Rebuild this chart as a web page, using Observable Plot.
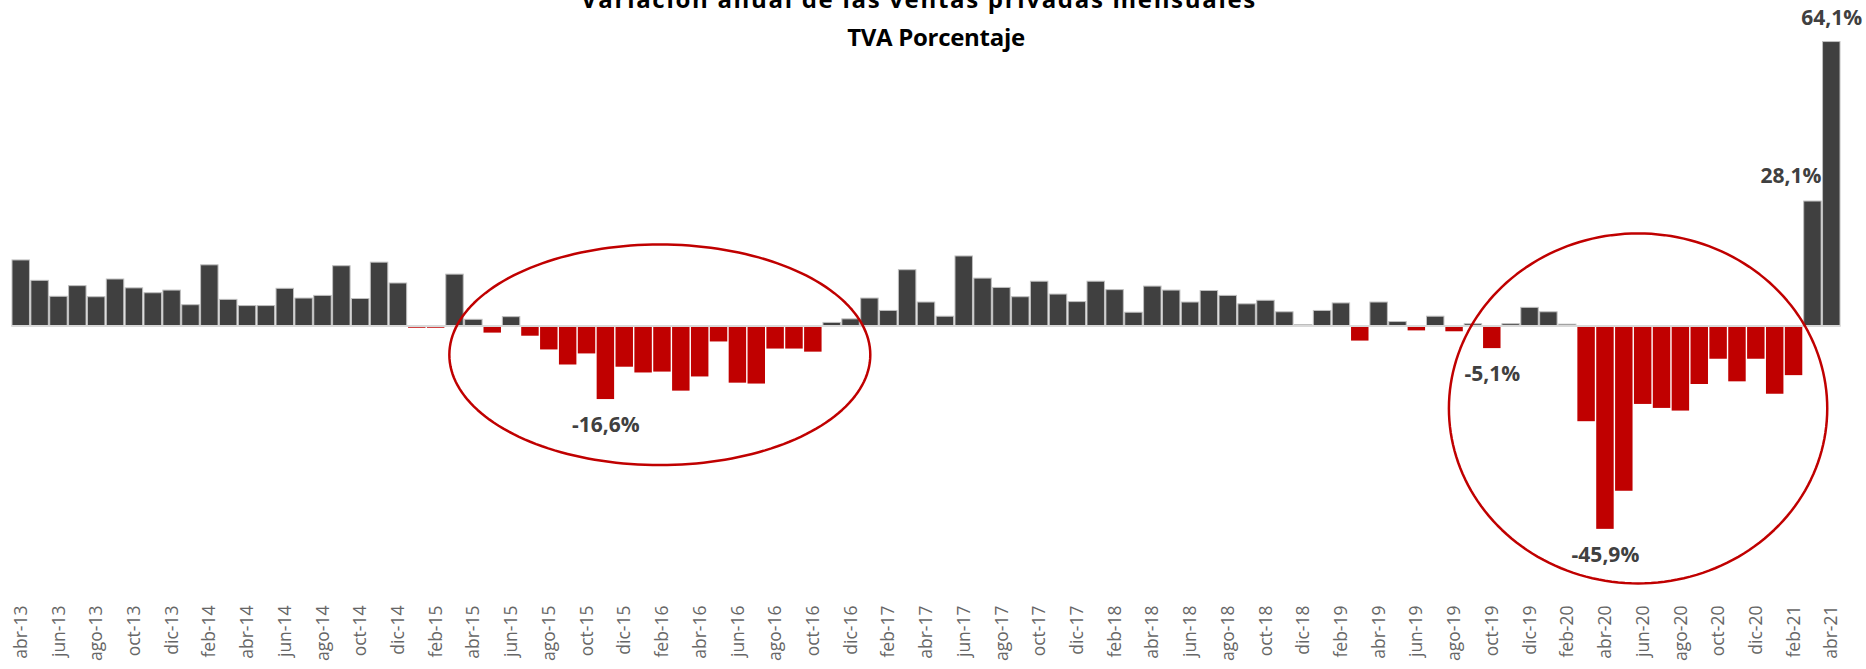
<!DOCTYPE html>
<html>
<head>
<meta charset="utf-8">
<script src="https://cdn.jsdelivr.net/npm/d3@7"></script>
<script src="https://cdn.jsdelivr.net/npm/@observablehq/plot@0.6"></script>
<style>
  html, body { margin: 0; padding: 0; background: #fff; }
  #wrap { position: relative; width: 1866px; height: 669px; overflow: hidden; }
  .title { position: absolute; width: 1866px; text-align: center;
           font-family: "Open Sans", sans-serif; font-weight: 700; font-size: 24px;
           line-height: 24px; color: #000; white-space: nowrap; }
</style>
</head>
<body>
<div id="wrap">
  <div id="chart"></div>
  <div class="title" style="top:-13px;left:-14px;letter-spacing:1.7px">Variación anual de las ventas privadas mensuales</div>
  <div class="title" style="top:25px;left:3px;letter-spacing:-0.3px">TVA Porcentaje</div>
</div>
<script>
// Month names (Spanish) and years covered: abr-13 ... abr-21
const monthNames = ["ene","feb","mar","abr","may","jun","jul","ago","sep","oct","nov","dic"];
const firstMonth = 3;   // abr
const firstYear = 13;

// Annual variation of private monthly sales (%), abr-13 .. abr-21
const values = [
  // 2013 abr..dic
  14.8, 10.2, 6.6, 9.0, 6.5, 10.5, 8.5, 7.4, 8.0,
  // 2014
  4.7, 13.7, 5.9, 4.5, 4.5, 8.4, 6.2, 6.8, 13.5, 6.1, 14.3, 9.6,
  // 2015
  -0.5, -0.5, 11.6, 1.4, -1.6, 2.0, -2.3, -5.4, -8.8, -6.3, -16.6, -9.3,
  // 2016
  -10.6, -10.4, -14.7, -11.5, -3.6, -12.9, -13.1, -5.2, -5.2, -5.9, 0.7, 1.5,
  // 2017
  6.2, 3.4, 12.6, 5.3, 2.1, 15.7, 10.7, 8.6, 6.5, 10.0, 7.1, 5.4,
  // 2018
  10.0, 8.1, 3.0, 8.9, 8.0, 5.3, 7.9, 6.8, 4.9, 5.7, 3.1, 0.2,
  // 2019
  3.4, 5.1, -3.4, 5.3, 0.9, -1.1, 2.1, -1.3, 0.4, -5.1, 0.4, 4.1,
  // 2020
  3.1, 0.3, -21.6, -45.9, -37.3, -17.7, -18.6, -19.2, -13.2, -7.5, -12.6, -7.5,
  // 2021 ene..abr
  -15.4, -11.2, 28.1, 64.1
];

// Category labels (mes-año)
const categories = values.map((_, i) => {
  const m = firstMonth + i;
  return monthNames[m % 12] + "-" + (firstYear + Math.floor(m / 12));
});

// Labelled bars (by category)
const labelsAbove = ["abr-21"];
const labelsAboveEnd = ["mar-21"];
const labelsBelow = ["nov-15", "oct-19", "abr-20"];

// Highlight ellipses (center month index, center value, radius in months, radius in %)
const ellipseCenterX = [34.36, 86.23];
const ellipseCenterY = [-6.5, -18.6];
const ellipseRadiusX = [11.16, 10.03];
const ellipseRadiusY = [24.9, 39.5];

const GRAY = "#404040", RED = "#c00000";
const data = values.map((v, i) => ({ i, v, cat: categories[i] }));
const fmt = v => v.toFixed(1).replace(".", ",") + "%";
const pick = list => data.filter(d => list.includes(d.cat));

const ellipsePts = [];
ellipseCenterX.forEach((cx, k) => {
  for (let s = 0; s <= 180; s++) {
    const t = (s / 180) * 2 * Math.PI;
    ellipsePts.push({ k, x: cx + ellipseRadiusX[k] * Math.cos(t), y: ellipseCenterY[k] + ellipseRadiusY[k] * Math.sin(t) });
  }
});

const tickVals = data.filter((d, i) => i % 2 === 0).map(d => d.i + 0.5);

const chart = Plot.plot({
  width: 1866,
  height: 669,
  marginLeft: 11.3,
  marginRight: 25.3,
  marginTop: 0,
  marginBottom: 69,
  style: { background: "white", fontFamily: "'Open Sans', sans-serif" },
  x: { domain: [0, 97], axis: null },
  y: { domain: [-61.96, 73.48], axis: null },
  marks: [
    Plot.rectY(data, {
      x1: "i", x2: d => d.i + 1, y1: 0, y2: "v",
      fill: d => d.v < 0 ? RED : GRAY,
      stroke: d => d.v < 0 ? RED : "#bfbfbf",
      strokeWidth: d => d.v < 0 ? 0 : 1,
      insetLeft: 0.7, insetRight: 0.7
    }),
    Plot.ruleY([0], { stroke: "#d9d9d9", strokeWidth: 2 }),
    Plot.line(ellipsePts, { x: "x", y: "y", z: "k", stroke: RED, strokeWidth: 2.5 }),
    Plot.text(pick(labelsAbove), {
      x: d => d.i + 0.5, y: "v", text: d => fmt(d.v), dy: -24,
      fontWeight: 700, fontSize: 21, fill: GRAY
    }),
    Plot.text(pick(labelsAboveEnd), {
      x: d => d.i + 1, y: "v", text: d => fmt(d.v), dy: -25, dx: -1, textAnchor: "end",
      fontWeight: 700, fontSize: 21, fill: GRAY
    }),
    Plot.text(pick(labelsBelow), {
      x: d => d.i + 0.5, y: "v", text: d => fmt(d.v), dy: 26,
      fontWeight: 700, fontSize: 21, fill: GRAY
    }),
    Plot.axisX({
      ticks: tickVals,
      tickFormat: t => categories[Math.round(t - 0.5)],
      tickSize: 0, tickPadding: 5, tickRotate: -90,
      fontSize: 17.5, fill: "#666666", label: null, anchor: "bottom"
    })
  ]
});
document.getElementById("chart").appendChild(chart);
</script>
</body>
</html>
